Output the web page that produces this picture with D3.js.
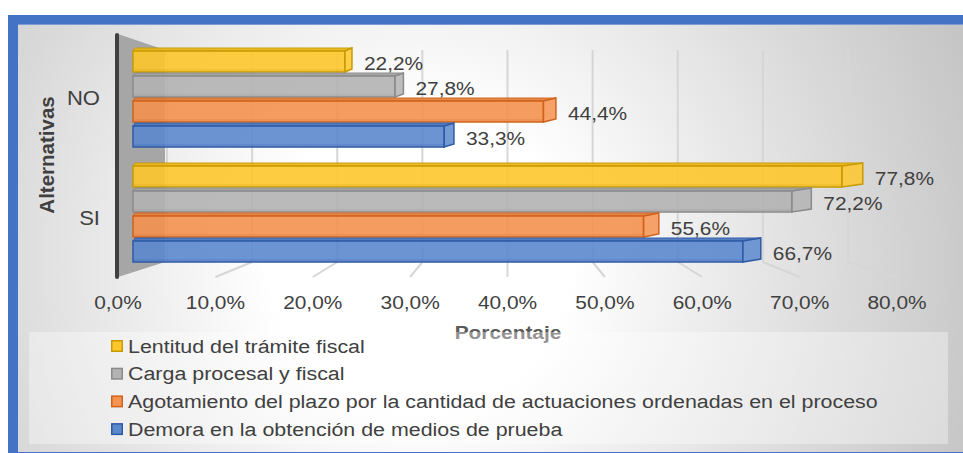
<!DOCTYPE html>
<html>
<head>
<meta charset="utf-8">
<script src="https://cdn.jsdelivr.net/npm/d3@7"></script>
<style>
  body { margin: 0; background: #fff; }
  svg text { font-family: "Liberation Sans", Arial, sans-serif; }
</style>
</head>
<body>
<svg width="963" height="453"></svg>
<script>
// data
var categories = ["NO", "SI"];
var seriesNames = [
  "Lentitud del trámite fiscal",
  "Carga procesal y fiscal",
  "Agotamiento del plazo por la cantidad de actuaciones ordenadas en el proceso",
  "Demora en la obtención de medios de prueba"
];
var valuesNO = [22.2, 27.8, 44.4, 33.3];
var valuesSI = [77.8, 72.2, 55.6, 66.7];
var ticks = [0, 10, 20, 30, 40, 50, 60, 70, 80];

var fills   = ["#FDC72C", "#B3B3B3", "#F4924F", "#5C88CE"];
var strokes = ["#C99A00", "#8A8A8A", "#D0621C", "#2F5AA6"];
var tops    = ["#EDB81C", "#A3A3A3", "#E5813D", "#4C78BE"];

var STRETCH = 1.13; // the reference text is a little wide

var svg = d3.select("svg");
var defs = svg.append("defs");

var grad = defs.append("radialGradient")
  .attr("id", "bg")
  .attr("gradientUnits", "userSpaceOnUse")
  .attr("cx", 420).attr("cy", 260).attr("r", 600);
grad.append("stop").attr("offset", 0).attr("stop-color", "#ffffff");
grad.append("stop").attr("offset", 0.25).attr("stop-color", "#ffffff");
grad.append("stop").attr("offset", 1).attr("stop-color", "#c3c3c3");

// frame
svg.append("rect").attr("x", 8).attr("y", 15).attr("width", 955).attr("height", 438).attr("fill", "#4472C4");
svg.append("rect").attr("x", 18).attr("y", 25).attr("width", 945).attr("height", 427).attr("fill", "url(#bg)");
svg.append("rect").attr("x", 18).attr("y", 24).attr("width", 945).attr("height", 1).attr("fill", "#7b9bd6");

var locale = d3.formatLocale({ decimal: ",", thousands: ".", grouping: [3], currency: ["", ""] });
var fmt = function (v) { return locale.format(".1f")(v) + "%"; };

// perspective scales: floor front edge, back wall, bar front ends, bar back ends
var xFloor = d3.scaleLinear().domain([0, 80]).range([118, 897]);
var xWall  = d3.scaleLinear().domain([0, 80]).range([167, 848]);
var xFront = d3.scaleLinear().domain([0, 80]).range([146.5, 861.7]);
var xBack  = d3.scaleLinear().domain([0, 80]).range([148, 883]);
var barBase = 133;

var wallTop = 50, wallBottom = 262, floorFront = 277;

var y0 = d3.scaleBand().domain(categories).range([48, 263]).paddingInner(0.1304);
var y1 = d3.scaleBand().domain(seriesNames).range([0, y0.bandwidth()]);

function place(x, y, k) { return "translate(" + x + "," + y + ") scale(" + (k || STRETCH) + ",1)"; }

// back wall gridlines and floor lines
var grid = svg.append("g").attr("stroke", "#d6d6d6").attr("stroke-width", 2).attr("fill", "none");
grid.selectAll("line.v").data(ticks).enter().append("line")
  .attr("x1", function (d) { return xWall(d); }).attr("x2", function (d) { return xWall(d); })
  .attr("y1", wallTop).attr("y2", wallBottom);
grid.selectAll("line.f").data(ticks.slice(1)).enter().append("line")
  .attr("x1", function (d) { return xWall(d); }).attr("y1", wallBottom)
  .attr("x2", function (d) { return xFloor(d); }).attr("y2", floorFront);

// left side wall
svg.append("polygon")
  .attr("points", [[118, 34], [165, 50], [165, wallBottom], [118, floorFront]].join(" "))
  .attr("fill", "#a6a6a6");
svg.append("line").attr("x1", 117).attr("x2", 117).attr("y1", 35).attr("y2", 277)
  .attr("stroke", "#404040").attr("stroke-width", 4).attr("stroke-linecap", "round");

// bars
var rows = [];
categories.forEach(function (c, ci) {
  var vals = ci === 0 ? valuesNO : valuesSI;
  seriesNames.forEach(function (s, si) {
    rows.push({ cat: c, s: s, i: si, v: vals[si] });
  });
});

var bars = svg.append("g").selectAll("g.bar").data(rows).enter().append("g").attr("class", "bar");

bars.each(function (d) {
  var g = d3.select(this);
  var top = y0(d.cat) + y1(d.s);
  var h = y1.bandwidth();
  var xf = xFront(d.v), xb = xBack(d.v), dt = 3;
  // top face
  g.append("polygon")
    .attr("points", [[barBase, top + dt], [barBase + 2, top], [xb, top], [xf, top + dt]].join(" "))
    .attr("fill", tops[d.i]).attr("stroke", strokes[d.i]).attr("stroke-width", 1).attr("opacity", 0.95);
  // front face
  g.append("rect")
    .attr("x", barBase).attr("y", top + dt)
    .attr("width", xf - barBase).attr("height", h - dt - 1)
    .attr("fill", fills[d.i]).attr("fill-opacity", 0.9)
    .attr("stroke", strokes[d.i]).attr("stroke-width", 1.5);
  // side face
  g.append("polygon")
    .attr("points", [[xf, top + dt], [xb, top], [xb, top + h - dt - 1], [xf, top + h - 1]].join(" "))
    .attr("fill", fills[d.i]).attr("fill-opacity", 0.85)
    .attr("stroke", strokes[d.i]).attr("stroke-width", 1.5);
  // inner edge line (3D hint)
  g.append("line")
    .attr("x1", barBase + 1).attr("x2", xf)
    .attr("y1", top + h - 3).attr("y2", top + h - 3)
    .attr("stroke", strokes[d.i]).attr("stroke-opacity", 0.35).attr("stroke-width", 1);
});

// data labels
svg.append("g").selectAll("text").data(rows).enter().append("text")
  .attr("transform", function (d) {
    return place(xBack(d.v) + 12, y0(d.cat) + y1(d.s) + y1.bandwidth() / 2 + 3);
  })
  .attr("dominant-baseline", "central")
  .attr("font-size", 18.5)
  .attr("fill", "#404040")
  .text(function (d) { return fmt(d.v); });

// category labels
svg.append("g").selectAll("text").data(categories).enter().append("text")
  .attr("transform", function (d, i) {
    return place(100, y0(d) + y0.bandwidth() / 2 + (i === 0 ? 0 : 5));
  })
  .attr("text-anchor", "end").attr("dominant-baseline", "central")
  .attr("font-size", 19.5).attr("fill", "#404040")
  .text(function (d) { return d; });

// x tick labels on the floor front edge
svg.append("g").selectAll("text").data(ticks).enter().append("text")
  .attr("transform", function (d) { return place(xFloor(d), 309); })
  .attr("text-anchor", "middle")
  .attr("font-size", 18.5)
  .attr("fill", "#404040")
  .text(function (d) { return fmt(d); });

// axis titles
svg.append("text")
  .attr("transform", place(508, 339, 1.16))
  .attr("text-anchor", "middle")
  .attr("font-size", 18).attr("font-weight", "bold")
  .attr("fill", "#595959")
  .text("Porcentaje");

svg.append("text")
  .attr("transform", "translate(54,155) rotate(-90)")
  .attr("text-anchor", "middle")
  .attr("font-size", 20.5).attr("font-weight", "bold")
  .attr("fill", "#404040")
  .text("Alternativas");

// legend
var legend = svg.append("g");
legend.append("rect")
  .attr("x", 29).attr("y", 332).attr("width", 919).attr("height", 112)
  .attr("fill", "#ffffff").attr("fill-opacity", 0.35);

var items = legend.selectAll("g.item").data(seriesNames).enter().append("g")
  .attr("transform", function (d, i) { return "translate(111," + (346 + i * 27.7) + ")"; });
items.append("rect")
  .attr("x", 0.75).attr("y", -5.25).attr("width", 10.5).attr("height", 10.5)
  .attr("fill", function (d, i) { return fills[i]; })
  .attr("stroke", function (d, i) { return strokes[i]; }).attr("stroke-width", 1.5);
items.append("text")
  .attr("transform", place(17, 0, 1.127))
  .attr("dominant-baseline", "central")
  .attr("font-size", 19)
  .attr("fill", "#404040")
  .text(function (d) { return d; });
</script>
</body>
</html>
